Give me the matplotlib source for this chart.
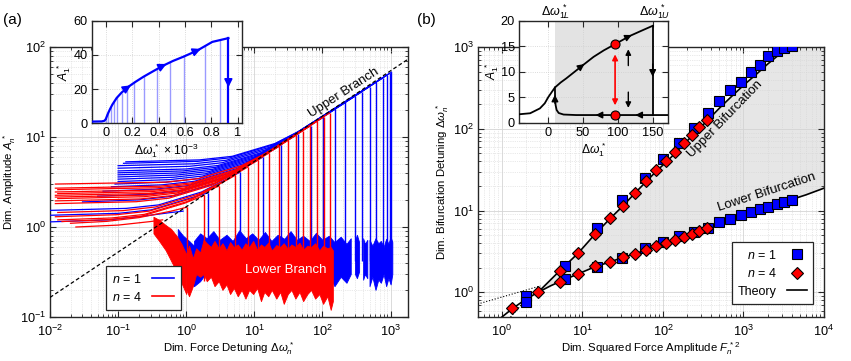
import numpy as np
import matplotlib
matplotlib.use('Agg')
import matplotlib.pyplot as plt
from matplotlib.lines import Line2D
from matplotlib.ticker import LogLocator, NullFormatter
import matplotlib.transforms as mtransforms

plt.rcParams['font.family'] = ['Liberation Sans', 'DejaVu Sans']
plt.rcParams['mathtext.fontset'] = 'custom'
plt.rcParams['mathtext.rm'] = 'Liberation Sans'
plt.rcParams['mathtext.it'] = 'Liberation Sans:italic'
plt.rcParams['mathtext.bf'] = 'Liberation Sans:bold'
plt.rcParams['font.size'] = 8

BLUE = '#0000ff'
RED = '#ff0000'
TICK_FS = 9.2
LABEL_FS = 8.2

# ---------------- Panel (b) data: bifurcation points ----------------
n1_F2 = [2.0, 6.1, 15.1, 31, 59, 100, 158, 241, 359, 501, 686, 931, 1239, 1618, 2040, 2584, 3213, 3970]
n1_upper = [0.9, 2.1, 6.1, 13.3, 25, 43, 67, 103, 154, 217, 296, 374, 490, 608, 768, 884, 972, 1030]
n1_lower = [0.77, 1.45, 2.05, 2.6, 3.5, 4.1, 4.95, 5.4, 6.1, 7.2, 8.0, 8.8, 9.6, 10.4, 11.1, 12.1, 12.9, 13.6]

n4_F2 = [1.34, 2.8, 5.2, 8.8, 14.2, 21.8, 31.8, 44.5, 61.5, 81.8, 109, 141, 180, 227, 280, 350]
n4_upper = [0.64, 1.02, 1.83, 3.0, 5.24, 8.05, 11.4, 16.6, 23, 31.3, 40.3, 51.9, 66.2, 82.8, 105, 127]
n4_lower = [np.nan, np.nan, 1.35, 1.67, 2.08, 2.36, 2.67, 2.93, 3.31, 3.70, 4.07, 4.38, 4.82, 5.14, 5.64, 6.08]

theory_low_x = [1.0, 1.34, 2.0, 2.8, 4.0, 5.2, 8.8, 14.2, 21.8, 31.8, 44.5, 61.5, 81.8, 109, 141, 180, 227,
                280, 350, 500, 700, 1000, 1500, 2000, 3000, 4000, 6000, 10000]
theory_low_y = [0.5, 0.63, 0.83, 1.0, 1.2, 1.35, 1.68, 2.05, 2.35, 2.67, 2.95, 3.3, 3.68, 4.05, 4.4, 4.8, 5.15,
                5.6, 6.05, 6.9, 7.7, 8.7, 10.0, 11.0, 12.5, 13.7, 15.6, 18.8]
theory_up_x = [2.8, 5.2, 8.8, 14.2, 21.8, 31.8, 44.5, 61.5, 81.8, 109, 141, 180, 227, 280, 350, 500, 700,
               1000, 1500, 2000, 3000, 4000, 6000, 10000]
theory_up_y = [1.0, 1.83, 3.0, 5.1, 7.9, 11.4, 16.2, 22.5, 30, 39, 50, 64, 81, 100, 124, 178, 245,
               340, 480, 620, 860, 1090, 1550, 2450]
asym_low_x = [0.5, 3.0]
asym_low_y = [0.72, 1.2]
asym_up_x = [1.28, 1.95]
asym_up_y = [0.5, 0.8]

# ---------------- Panel (a) data: frequency sweeps ----------------
backbone_x = [0.01, 1841]
backbone_y = [0.165, 74]

blue_trace_x = [
    [0.01, 0.073, 0.218, 0.6, 0.9],
    [0.01, 0.102, 0.306, 1.31, 2.1],
    [0.01, 0.131, 0.393, 1.68, 3.81, 6.1],
    [0.03, 0.202, 0.606, 2.6, 5.88, 13.3],
    [0.05, 0.271, 0.813, 3.48, 7.89, 25],
    [0.06, 0.35, 1.05, 4.5, 10.2, 43],
    [0.08, 0.439, 1.32, 5.64, 12.8, 67],
    [0.09, 0.504, 1.51, 6.48, 14.7, 103],
    [0.1, 0.573, 1.72, 7.37, 16.7, 154],
    [0.1, 0.647, 1.94, 8.32, 18.8, 217],
    [0.1, 0.726, 2.18, 9.33, 21.1, 296],
    [0.1, 0.809, 2.43, 10.4, 23.5, 374],
    [0.1, 0.896, 2.69, 11.5, 26.1, 490],
    [0.1, 0.988, 2.96, 12.7, 28.8, 608],
    [0.1, 1.13, 3.4, 14.6, 33, 768],
    [0.1, 1.29, 3.87, 16.6, 37.6, 884],
    [0.12, 1.46, 4.37, 18.7, 42.4, 972],
    [0.13, 1.57, 4.72, 20.2, 45.8, 1030],
]
blue_trace_a = [
    [1.14, 1.2, 1.31, 1.45, 1.5],
    [1.35, 1.42, 1.55, 2.16, 2.4],
    [1.53, 1.61, 1.76, 2.45, 3.37, 4.05],
    [1.9, 2.0, 2.19, 3.04, 4.18, 5.98],
    [2.2, 2.31, 2.53, 3.52, 4.84, 8.2],
    [2.5, 2.63, 2.88, 4.0, 5.5, 10.75],
    [2.8, 2.94, 3.22, 4.48, 6.16, 13.4],
    [3.0, 3.15, 3.45, 4.8, 6.6, 16.6],
    [3.2, 3.36, 3.68, 5.12, 7.04, 20.4],
    [3.4, 3.57, 3.91, 5.44, 7.48, 24.2],
    [3.6, 3.78, 4.14, 5.76, 7.92, 28.2],
    [3.8, 3.99, 4.37, 6.08, 8.36, 31.7],
    [4.0, 4.2, 4.6, 6.4, 8.8, 36.3],
    [4.2, 4.41, 4.83, 6.72, 9.24, 40.4],
    [4.5, 4.73, 5.18, 7.2, 9.9, 45.4],
    [4.8, 5.04, 5.52, 7.68, 10.56, 48.8],
    [5.1, 5.36, 5.87, 8.16, 11.22, 51.1],
    [5.3, 5.57, 6.1, 8.48, 11.66, 52.6],
]
blue_drop_low = 0.42

red_trace_x = [
    [0.024, 0.1, 0.3, 0.45],
    [0.02, 0.068, 0.2, 0.6, 1.02],
    [0.015, 0.074, 0.222, 0.95, 1.83],
    [0.013, 0.081, 0.242, 1.04, 2.35, 3.0],
    [0.012, 0.095, 0.284, 1.22, 2.75, 5.24],
    [0.013, 0.118, 0.353, 1.51, 3.43, 8.05],
    [0.012, 0.185, 0.556, 2.38, 5.4, 11.4],
    [0.012, 0.213, 0.638, 2.74, 6.2, 16.6],
    [0.013, 0.24, 0.72, 3.08, 6.98, 23],
    [0.012, 0.259, 0.777, 3.33, 7.53, 31.3],
    [0.012, 0.283, 0.85, 3.64, 8.25, 40.3],
    [0.013, 0.309, 0.927, 3.97, 9.0, 51.9],
    [0.012, 0.336, 1.01, 4.32, 9.78, 66.2],
    [0.013, 0.379, 1.14, 4.87, 11.0, 82.8],
    [0.012, 0.408, 1.22, 5.25, 11.9, 105],
    [0.012, 0.504, 1.51, 6.48, 14.7, 127],
]
red_trace_a = [
    [1.0, 1.05, 1.15, 1.2],
    [1.1, 1.155, 1.27, 1.5, 1.66],
    [1.15, 1.21, 1.32, 1.84, 2.25],
    [1.2, 1.26, 1.38, 1.92, 2.64, 2.84],
    [1.3, 1.37, 1.5, 2.08, 2.86, 3.75],
    [1.45, 1.52, 1.67, 2.32, 3.19, 4.65],
    [1.82, 1.91, 2.09, 2.91, 4.0, 5.54],
    [1.95, 2.05, 2.24, 3.12, 4.29, 6.68],
    [2.07, 2.17, 2.38, 3.31, 4.55, 7.87],
    [2.15, 2.26, 2.47, 3.44, 4.73, 9.18],
    [2.25, 2.36, 2.59, 3.6, 4.95, 10.4],
    [2.35, 2.47, 2.7, 3.76, 5.17, 11.8],
    [2.45, 2.57, 2.82, 3.92, 5.39, 13.3],
    [2.6, 2.73, 2.99, 4.16, 5.72, 14.9],
    [2.7, 2.84, 3.1, 4.32, 5.94, 16.8],
    [3.0, 3.15, 3.45, 4.8, 6.6, 18.5],
]
red_drop_low = 0.25

# lower-branch noise envelopes
red_desc_x = [0.33, 0.4, 0.5, 0.6, 0.72, 0.85, 1.0]
red_desc_top = [1.3, 1.2, 1.05, 0.95, 0.8, 0.65, 0.5]
red_desc_bot = [0.85, 0.7, 0.55, 0.42, 0.32, 0.24, 0.18]
blue_desc_x = [0.75, 0.9, 1.1, 1.3, 1.6, 1.9]
blue_desc_top = [0.95, 0.8, 0.7, 0.62, 0.65, 0.7]
blue_desc_bot = [0.5, 0.35, 0.27, 0.22, 0.25, 0.3]

red_band_x = [1.0, 1.1, 1.25, 1.4, 1.6, 1.8, 2.0, 2.3, 2.6, 3.0, 3.4, 3.9, 4.4, 5.0, 5.7, 6.5, 7.4, 8.4, 9.6, 11,
              12.5, 14, 16, 18, 21, 24, 27, 31, 35, 40, 46, 52, 60, 68, 78, 90, 102, 118, 132, 142]
red_band_top = [0.5, 0.62, 0.45, 0.58, 0.52, 0.72, 0.66, 0.6, 0.7, 0.58, 0.66, 0.55, 0.68, 0.6, 0.64, 0.56, 0.66, 0.6,
                0.7, 0.56, 0.64, 0.6, 0.67, 0.55, 0.63, 0.6, 0.66, 0.57, 0.64, 0.6, 0.67, 0.56, 0.62, 0.6, 0.66, 0.55,
                0.62, 0.58, 0.6, 0.55]
red_band_bot = [0.2, 0.17, 0.22, 0.3, 0.28, 0.3, 0.25, 0.28, 0.22, 0.25, 0.2, 0.23, 0.18, 0.21, 0.17, 0.2, 0.16, 0.2,
                0.18, 0.21, 0.15, 0.19, 0.17, 0.2, 0.16, 0.19, 0.14, 0.18, 0.2, 0.16, 0.19, 0.15, 0.18, 0.2, 0.16,
                0.18, 0.14, 0.17, 0.12, 0.15]

blue_band_x = [
    [1.3, 1.6, 2.0, 2.5, 3.1, 3.9, 4.8, 6.0, 7.5, 9.3, 11.5, 14.3, 17.8, 22, 27.5, 34, 42, 52, 65, 80, 100, 124,
     150, 185, 225, 260],
    [300, 320, 345],
    [395, 420, 455],
    [490, 540, 600, 660, 720, 790, 860, 930, 1000, 1060],
]
blue_band_top = [
    [0.7, 0.85, 0.75, 0.9, 0.72, 0.82, 0.7, 0.92, 0.75, 0.85, 0.72, 0.88, 0.7, 0.82, 0.74, 0.9, 0.72, 0.8, 0.7,
     0.86, 0.72, 0.8, 0.68, 0.78, 0.65, 0.75],
    [0.7, 0.82, 0.68],
    [0.75, 0.65, 0.72],
    [0.72, 0.62, 0.75, 0.66, 0.7, 0.6, 0.74, 0.65, 0.78, 0.68],
]
blue_band_bot = [
    [0.3, 0.35, 0.3, 0.33, 0.28, 0.3, 0.27, 0.3, 0.28, 0.3, 0.27, 0.3, 0.28, 0.3, 0.27, 0.3, 0.28, 0.3, 0.27, 0.3,
     0.28, 0.3, 0.22, 0.28, 0.24, 0.3],
    [0.3, 0.27, 0.32],
    [0.26, 0.3, 0.27],
    [0.22, 0.28, 0.2, 0.26, 0.24, 0.3, 0.22, 0.27, 0.23, 0.3],
]

# inset (a)
ia_x = [-0.107, -0.03, -0.01, 0.0, 0.015, 0.03, 0.05, 0.082, 0.12, 0.17, 0.22, 0.285, 0.36, 0.437, 0.51, 0.59,
        0.692, 0.807, 0.929]
ia_a = [1.0, 1.1, 1.5, 2.5, 5.5, 8.0, 11.0, 14.8, 18.0, 21.3, 24.0, 27.2, 30.5, 33.8, 36.5, 39.0, 42.5, 47.6, 49.8]
ia_stem_x = [0.005, 0.02, 0.036, 0.061, 0.086, 0.12, 0.158, 0.214, 0.29, 0.387, 0.489, 0.595, 0.75, 0.865]
ia_stem_a = [2.5, 6.8, 9.5, 12.8, 15.2, 18, 20.5, 24, 27.5, 31.8, 35.8, 39.5, 45.5, 48.5]

# inset (b)
ib_up_x = [-42, -26, -12, -5, 0, 5, 9.6, 18, 26, 38, 50, 65, 80, 96, 117, 135, 150]
ib_up_a = [1.65, 1.85, 2.8, 3.8, 5.0, 6.0, 6.9, 7.9, 8.7, 10.0, 11.3, 12.9, 14.2, 15.4, 17.0, 18.1, 19.0]
ib_down_x = [150, 150]
ib_down_a = [19.0, 1.5]
ib_low_x = [172, 100, 40, 22, 15, 12, 10.5, 9.8, 9.6]
ib_low_a = [1.5, 1.5, 1.5, 1.6, 1.9, 2.5, 3.5, 5.0, 6.9]


def style(ax, fs=TICK_FS):
    ax.tick_params(which='both', direction='in', top=True, right=True, labelsize=fs,
                   color='#262626', labelcolor='black', pad=3)
    ax.tick_params(which='major', length=4, width=0.8)
    ax.tick_params(which='minor', length=2, width=0.6)
    ax.grid(True, which='major', color='#d4d4d4', lw=0.6, ls='-')
    ax.grid(True, which='minor', color='#d4d4d4', lw=0.5, ls=':')
    for s in ax.spines.values():
        s.set_linewidth(1.0)
        s.set_color('#262626')


def logaxes(ax):
    for axis in (ax.xaxis, ax.yaxis):
        axis.set_major_locator(LogLocator(base=10, numticks=100))
        axis.set_minor_locator(LogLocator(base=10, subs=np.arange(2, 10), numticks=100))
        axis.set_minor_formatter(NullFormatter())
    ax.tick_params(axis='x', which='both', pad=5)
    ax.tick_params(axis='y', which='both', pad=3)


fig = plt.figure(figsize=(8.51, 3.61), dpi=100)

# ================= Panel (a) =================
ax = fig.add_axes([0.05875, 0.12188, 0.42068, 0.74792])
ax.set_xscale('log')
ax.set_yscale('log')
style(ax)
logaxes(ax)
ax.set_xlim(1e-2, 1.8e3)
ax.set_ylim(1e-1, 1e2)

# blue (n=1)
for xs, ys in zip(blue_trace_x, blue_trace_a):
    ax.plot(xs, ys, color=BLUE, lw=0.9, zorder=3)
ax.vlines(n1_upper[1:], blue_drop_low, [a[-1] for a in blue_trace_a[1:]], color=BLUE, lw=1.0, zorder=3)
ax.fill_between(blue_desc_x, blue_desc_bot, blue_desc_top, color=BLUE, lw=0.6, zorder=3)
for xs, t, b in zip(blue_band_x, blue_band_top, blue_band_bot):
    ax.fill_between(xs, b, t, color=BLUE, lw=0.6, zorder=3)

# red (n=4)
for xs, ys in zip(red_trace_x, red_trace_a):
    ax.plot(xs, ys, color=RED, lw=0.9, zorder=4)
ax.vlines(n4_upper[1:], red_drop_low, [a[-1] for a in red_trace_a[1:]], color=RED, lw=1.0, zorder=4)
ax.fill_between(red_desc_x, red_desc_bot, red_desc_top, color=RED, lw=0.6, zorder=4)
ax.fill_between(red_band_x, red_band_bot, red_band_top, color=RED, lw=0.6, zorder=4)

ax.plot(backbone_x, backbone_y, color='k', ls='--', lw=0.9, dashes=(3, 2), zorder=5)

ax.text(205, 30.8, 'Upper Branch', rotation=33, ha='center', va='center', fontsize=9.5, zorder=6)
ax.text(28.6, 0.33, 'Lower Branch', color='white', ha='center', va='center', fontsize=9.5, zorder=6)

ax.set_xlabel(r'Dim. Force Detuning $\Delta\omega_n^{\,*}$', fontsize=LABEL_FS, labelpad=1)
ax.set_ylabel(r'Dim. Amplitude $A_n^{\,*}$', fontsize=LABEL_FS, labelpad=1)

leg_a = ax.legend([Line2D([], [], color=BLUE, lw=1.2), Line2D([], [], color=RED, lw=1.2)],
                  [r'$n$ = 1', r'$n$ = 4'], loc='lower left', bbox_to_anchor=(0.156, 0.026),
                  borderaxespad=0, markerfirst=False, fontsize=9, handlelength=1.8, fancybox=False,
                  framealpha=1, edgecolor='#262626', borderpad=0.5, labelspacing=0.4)
leg_a.get_frame().set_linewidth(0.9)
leg_a.set_zorder(10)

# inset (a)
ia = fig.add_axes([0.10776, 0.65845, 0.17626, 0.28421])
ia.set_zorder(5)
style(ia)
ia.set_xlim(-0.107, 1.03)
ia.set_ylim(0, 60)
ia.set_xticks([0, 0.2, 0.4, 0.6, 0.8, 1.0])
ia.set_xticklabels(['0', '0.2', '0.4', '0.6', '0.8', '1'])
ia.set_yticks([0, 20, 40, 60])
ia.minorticks_off()
ia.grid(True, which='major', color='#cfcfcf', lw=0.6, ls=':')
ia.vlines(ia_stem_x, 0, ia_stem_a, color='#9a9aff', lw=1.0, zorder=2)
ia.plot(ia_x, ia_a, color=BLUE, lw=1.6, zorder=3)
ia.plot([0.929, 0.929], [49.8, 0], color=BLUE, lw=1.6, zorder=3)
for (x0, y0, x1, y1) in [(0.15, 20.2, 0.19, 22.2), (0.42, 33.2, 0.46, 34.7), (0.68, 42.2, 0.72, 43.5),
                         (0.929, 26, 0.929, 21)]:
    ia.annotate('', xy=(x1, y1), xytext=(x0, y0),
                arrowprops=dict(arrowstyle='-|>', color=BLUE, lw=1.2, mutation_scale=12,
                                shrinkA=0, shrinkB=0), zorder=4)
ia.set_xlabel(r'$\Delta\omega_1^{\,*}$ $\times$ 10$^{-3}$', fontsize=LABEL_FS + 0.5, labelpad=1)
ia.set_ylabel(r'$A_1^{\,*}$', fontsize=LABEL_FS + 0.5, labelpad=0)

# ================= Panel (b) =================
bx = fig.add_axes([0.56134, 0.12188, 0.40693, 0.74792])
bx.set_xscale('log')
bx.set_yscale('log')
style(bx)
logaxes(bx)
bx.set_xlim(0.5, 1e4)
bx.set_ylim(0.5, 1e3)

poly_x = theory_low_x[3:] + theory_up_x[::-1]
poly_y = theory_low_y[3:] + theory_up_y[::-1]
bx.fill(poly_x, poly_y, color='#e6e6e6', lw=0, zorder=1)

bx.plot(theory_low_x, theory_low_y, color='k', lw=1.2, zorder=3)
bx.plot(theory_up_x, theory_up_y, color='k', lw=1.2, zorder=3)
bx.plot(asym_low_x, asym_low_y, color='k', lw=0.8, ls=':', zorder=3)
bx.plot(asym_up_x, asym_up_y, color='k', lw=0.8, ls=':', zorder=3)

sq = dict(marker='s', ls='none', ms=6.5, mfc=BLUE, mec='k', mew=0.8, zorder=4)
dm = dict(marker='D', ls='none', ms=6.3, mfc=RED, mec='k', mew=0.8, zorder=5)
bx.plot(n1_F2, n1_upper, **sq)
bx.plot(n1_F2, n1_lower, **sq)
bx.plot(n4_F2, n4_upper, **dm)
bx.plot(n4_F2, n4_lower, **dm)

bx.text(589, 130, 'Upper Bifurcation', rotation=46, ha='center', va='center', fontsize=9.5, zorder=6)
bx.text(1941, 16.6, 'Lower Bifurcation', rotation=18, ha='center', va='center', fontsize=9.5, zorder=6)

bx.set_xlabel(r'Dim. Squared Force Amplitude $F_n^{\,*2}$', fontsize=LABEL_FS, labelpad=1)
bx.set_ylabel(r'Dim. Bifurcation Detuning $\Delta\omega_n^{\,*}$', fontsize=LABEL_FS, labelpad=1)

leg_b = bx.legend([Line2D([], [], **sq), Line2D([], [], **dm), Line2D([], [], color='k', lw=1.2)],
                  [r'$n$ = 1', r'$n$ = 4', 'Theory'], loc='lower right', bbox_to_anchor=(0.969, 0.048),
                  borderaxespad=0, markerfirst=False, fontsize=9, handlelength=1.6, fancybox=False,
                  framealpha=1, edgecolor='#262626', borderpad=0.5, labelspacing=0.45)
leg_b.get_frame().set_linewidth(0.9)
leg_b.set_zorder(10)

# inset (b)
ib = fig.add_axes([0.60987, 0.66011, 0.17509, 0.28255])
ib.set_zorder(5)
style(ib)
ib.set_xlim(-42, 172)
ib.set_ylim(0, 20)
ib.set_xticks([0, 50, 100, 150])
ib.set_yticks([0, 5, 10, 15, 20])
ib.minorticks_off()
ib.grid(True, which='major', color='#cfcfcf', lw=0.6, ls=':')
ib.axvspan(10, 150, color='#e3e3e3', lw=0, zorder=0)
ib.plot(ib_up_x, ib_up_a, color='k', lw=1.3, zorder=3)
ib.plot(ib_down_x, ib_down_a, color='k', lw=1.3, zorder=3)
ib.plot(ib_low_x, ib_low_a, color='k', lw=1.3, zorder=3)
for (x0, y0, x1, y1) in [(46, 10.9, 52, 11.5), (114, 16.8, 120, 17.2), (75, 1.5, 68, 1.5),
                         (132, 1.5, 125, 1.5), (9.6, 3.8, 9.6, 5.5), (150, 11.5, 150, 9.0)]:
    ib.annotate('', xy=(x1, y1), xytext=(x0, y0),
                arrowprops=dict(arrowstyle='-|>', color='k', lw=1.0, mutation_scale=10,
                                shrinkA=0, shrinkB=0), zorder=4)
ib.annotate('', xy=(96, 13.4), xytext=(96, 3.4),
            arrowprops=dict(arrowstyle='<|-|>', color=RED, lw=1.2, mutation_scale=8, shrinkA=0, shrinkB=0),
            zorder=4)
ib.annotate('', xy=(115, 14.4), xytext=(115, 11.2),
            arrowprops=dict(arrowstyle='-|>', color='k', lw=1.0, mutation_scale=8, shrinkA=0, shrinkB=0))
ib.annotate('', xy=(115, 2.9), xytext=(115, 6.0),
            arrowprops=dict(arrowstyle='-|>', color='k', lw=1.0, mutation_scale=8, shrinkA=0, shrinkB=0))
ib.plot([96, 96], [15.4, 1.5], ls='none', marker='o', ms=6.5, mfc=RED, mec='k', mew=0.8, zorder=5)
ib.set_xlabel(r'$\Delta\omega_1^{\,*}$', fontsize=LABEL_FS + 0.5, labelpad=1)
ib.set_ylabel(r'$A_1^{\,*}$', fontsize=LABEL_FS + 0.5, labelpad=0)
trans = mtransforms.blended_transform_factory(ib.transData, ib.transAxes)
ib.text(10, 1.09, r'$\Delta\omega^{\,*}_{1L}$', transform=trans, ha='center', va='center', fontsize=9)
ib.text(153, 1.09, r'$\Delta\omega^{\,*}_{1U}$', transform=trans, ha='center', va='center', fontsize=9)

fig.text(12 / 851, 1 - 20 / 361, '(a)', fontsize=11, ha='center', va='center')
fig.text(426 / 851, 1 - 20 / 361, '(b)', fontsize=11, ha='center', va='center')

fig.savefig('out.png', dpi=100)
